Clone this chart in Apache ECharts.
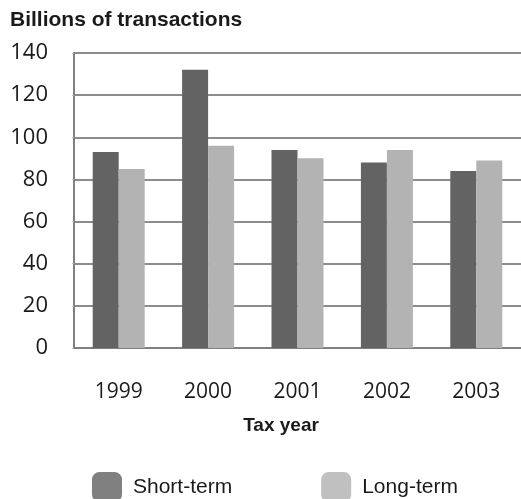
<!DOCTYPE html>
<html>
<head>
<meta charset="utf-8">
<script src="https://cdn.jsdelivr.net/npm/echarts@6/dist/echarts.min.js"></script>
<style>
  html, body { margin: 0; padding: 0; background: #fff; }
  #chart { width: 521px; height: 499px; }
</style>
</head>
<body>
<div id="chart"></div>
<script>
"use strict";

var years = ['1999', '2000', '2001', '2002', '2003'];
var shortTerm = [93, 132, 94, 88, 84];
var longTerm = [85, 96, 90, 94, 89];
var yTicks = [0, 20, 40, 60, 80, 100, 120, 140];

var chart = echarts.init(document.getElementById('chart'));

chart.setOption({
	animation: false,
	title: [{
		text: 'Billions of transactions',
		left: 10, top: 10, padding: 0,
		textStyle: { fontFamily: 'Liberation Sans', fontWeight: 'bold', fontSize: 21, color: '#1a1a1a' }
	}, {
		text: 'Tax year',
		left: 281, top: 416, padding: 0, textAlign: 'center',
		textStyle: { fontFamily: 'Liberation Sans', fontWeight: 'bold', fontSize: 19, color: '#1a1a1a' }
	}],
	grid: { left: 74, top: 53, width: 449, height: 295, containLabel: false },
	legend: {
		left: 92, top: 472, padding: 0,
		itemWidth: 30, itemHeight: 30, itemGap: 89,
		icon: 'roundRect',
		textStyle: { fontFamily: 'Liberation Sans', fontSize: 21, color: '#1a1a1a', padding: [0, 0, 0, 6] },
		data: [
			{ name: 'Short-term', itemStyle: { color: '#808080' } },
			{ name: 'Long-term', itemStyle: { color: '#c0c0c0' } }
		]
	},
	xAxis: {
		type: 'category',
		data: years,
		axisLine: { lineStyle: { color: '#808080', width: 2 } },
		axisTick: { show: false },
		axisLabel: { margin: 34, fontFamily: 'Open Sans', fontSize: 21, color: '#1a1a1a' }
	},
	yAxis: {
		type: 'value',
		min: yTicks[0], max: yTicks[yTicks.length - 1], interval: 20,
		axisLine: { show: true, lineStyle: { color: '#808080', width: 2 } },
		axisTick: { show: true, length: 2, lineStyle: { color: '#bbbbbb' } },
		axisLabel: { margin: 26, fontFamily: 'Open Sans', fontSize: 22, color: '#1a1a1a' },
		splitLine: { lineStyle: { color: '#8c8c8c', width: 2 } }
	},
	series: [{
		name: 'Short-term',
		type: 'bar',
		data: shortTerm,
		barWidth: 26,
		barGap: 0,
		itemStyle: { color: '#636363' }
	}, {
		name: 'Long-term',
		type: 'bar',
		data: longTerm,
		barWidth: 26,
		itemStyle: { color: '#b3b3b3' }
	}]
});
</script>
</body>
</html>
